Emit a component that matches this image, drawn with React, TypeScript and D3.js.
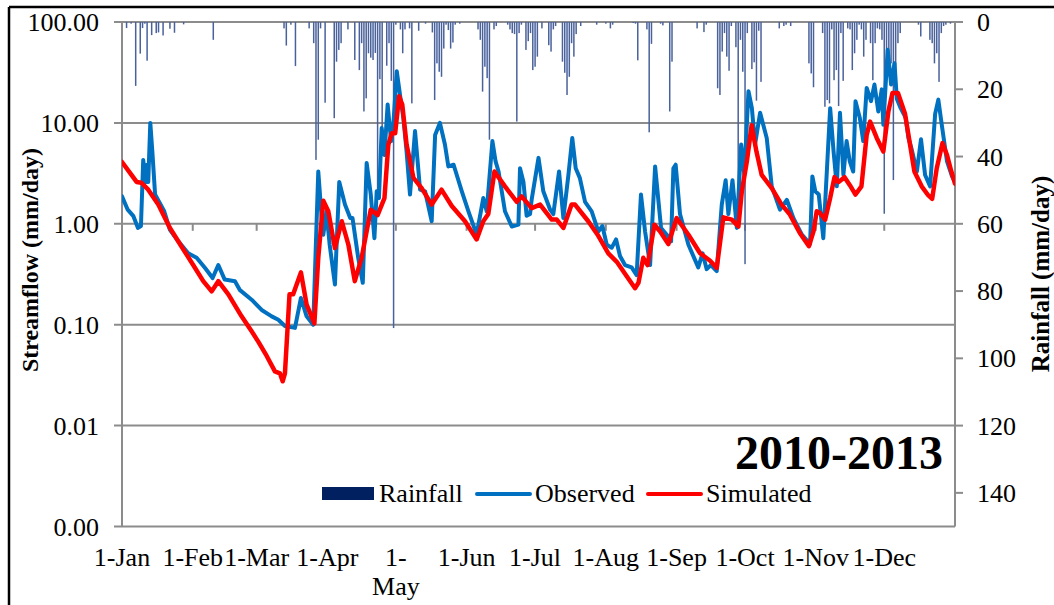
import React from "react";
import * as d3 from "d3";

const monthDays = [0, 31, 59, 90, 120, 151, 181, 212, 243, 273, 304, 334];
const monthLabels = ["1-Jan", "1-Feb", "1-Mar", "1-Apr", "1-May", "1-Jun", "1-Jul", "1-Aug", "1-Sep", "1-Oct", "1-Nov", "1-Dec"];
const flowTicks = [100, 10, 1, 0.1, 0.01, 0.001];
const rainTicks = [0, 20, 40, 60, 80, 100, 120, 140];

// [day of year, mm/day]
const rainfall: [number, number][] = [
  [2, 1.8], [4, 0.5], [6, 19], [8, 9.4], [9, 1.8], [10, 0.5], [11, 11.5], [13, 3.9], [15, 3.3], [16, 3.1], [18, 4], [21, 2], [23, 3.2], [27, 0.7], [40, 5.3],
  [71, 1.9], [72, 7], [74, 0.8], [76, 13.1], [82, 1.9], [84, 6.3], [85, 41], [86, 35], [87, 1.9], [89, 24], [93, 28.6], [94, 11.8], [95, 8.3], [96, 6.3], [99, 2.2],
  [102, 11.3], [104, 14.3], [105, 6.3], [106, 26.6], [107, 22.7], [108, 9.3], [109, 10.6], [110, 11.3], [111, 9.2], [112, 52], [113, 17], [114, 38], [116, 13], [117, 6.3], [118, 17.5], [119, 91], [120, 0.8],
  [122, 2.2], [123, 9.3], [124, 2.2], [126, 1.9], [127, 24.2], [130, 2.6], [133, 0.5], [136, 3.1], [137, 23.2], [138, 12.3], [139, 14.8], [140, 16.3], [141, 7.9], [142, 0.8], [143, 2.4], [144, 7.9], [145, 6.1], [146, 0.8], [148, 0.5],
  [156, 2.2], [157, 5.3], [158, 20.7], [159, 13.3], [160, 16.7], [161, 35], [163, 2.2], [164, 1.2], [169, 0.8], [170, 2.2], [171, 3.3], [172, 3.6], [173, 29.6], [174, 3.3], [175, 0.8], [177, 8.3], [178, 5.7], [179, 3.3], [180, 14.3], [181, 13.3], [182, 10.3],
  [184, 1.9], [187, 6.9], [188, 8.8], [189, 2.2], [190, 1.2], [193, 11.8], [194, 15.1], [195, 21.7], [196, 16.3], [197, 6.3], [198, 10.3], [199, 3.6], [201, 1.2], [208, 0.8], [212, 0.5], [214, 1.9], [215, 0.8],
  [224, 0.3], [225, 0.5], [226, 11.4], [230, 2.2], [231, 32.8], [232, 6.5], [236, 0.5], [237, 1], [240, 26.6], [241, 11.8], [252, 1.9], [255, 3], [256, 0.8],
  [261, 19.7], [262, 21.7], [263, 8.8], [264, 3.3], [265, 10.3], [266, 14.5], [267, 1.2], [269, 7.5], [270, 60], [271, 5.3], [272, 14.8], [273, 72], [274, 3.3], [276, 14], [277, 12], [278, 23.4], [279, 2.6], [280, 17.8],
  [288, 1.9], [290, 1.2], [291, 0.8], [293, 1.2], [301, 12.3], [302, 15.3], [303, 19.4], [307, 3.3], [308, 25.2], [309, 23.2], [310, 24.2], [311, 2.2], [312, 17.3], [313, 14.3], [314, 25], [315, 3.3], [316, 17.5], [318, 1.9],
  [319, 2.2], [320, 14.3], [321, 9.3], [322, 5.3], [323, 0.8], [324, 2.2], [325, 10.3], [326, 5.3], [328, 6.3], [329, 17.3], [330, 6.3], [331, 1.9], [332, 2.2], [333, 5.3], [334, 57], [335, 13.3], [336, 10.3], [337, 12.3], [338, 47], [339, 19.2], [340, 6.3], [341, 3.3],
  [349, 0.8], [350, 4.3], [354, 5.3], [355, 6.3], [356, 12.3], [357, 9.3], [358, 17.8], [359, 3.3], [360, 1.2], [361, 0.8], [363, 0.5],
];

// [day of year, streamflow mm/day]
const observed: [number, number][] = [
  [0, 1.87], [2.5, 1.38], [5, 1.19], [7, 0.91], [8.3, 0.95], [9.3, 4.3], [10.4, 2.6], [11, 3.85], [11.5, 2.6], [12.4, 10], [13.3, 5.2], [14.5, 1.95], [16.6, 1.6], [18.5, 1.33], [21, 0.87], [24.7, 0.67], [29, 0.51], [32.7, 0.46], [36.4, 0.365], [39.7, 0.29], [42.2, 0.39], [45, 0.28], [49.5, 0.27], [51.7, 0.22], [56.8, 0.177], [61.2, 0.14], [65.6, 0.121], [68.5, 0.112], [71.4, 0.097],
  [75.8, 0.093], [78.4, 0.184], [80.9, 0.121], [83.8, 0.1], [86, 3.3], [87.5, 1.14], [88.2, 0.78], [89.6, 1.33], [91, 0.62], [93.3, 0.25], [95.2, 2.6], [97.7, 1.55], [100, 1.14], [101, 1.14], [103.5, 0.46], [105.5, 0.26], [107.2, 4.0], [109, 1.95], [110.6, 0.72], [111.6, 2.1], [112.6, 1.8], [113.8, 8.9], [115, 4.8], [116.4, 15.2], [117.9, 6.6], [118.8, 8.9], [120.4, 32.5], [121.9, 18.4], [123.3, 11.2], [124.7, 5.2], [126.2, 1.95], [128.4, 8.3], [130.6, 2.18], [132.8, 2.1], [135.7, 1.06], [137.2, 7.6], [139.3, 10], [141.5, 6.1], [143, 3.7], [145.3, 3.85],
  [148.9, 2.1], [151.8, 1.33], [155.4, 0.78], [158.3, 1.8], [159.8, 1.33], [162.3, 6.6], [163.7, 4.15], [165, 3.3], [167.8, 1.33], [170.8, 0.94], [173.7, 0.98], [174.4, 3.55], [175.9, 2.6], [177.3, 1.2], [178.8, 1.25], [179.5, 1.73], [182.5, 4.5], [184.6, 2.1], [187.6, 1.38], [189, 1.25], [191.5, 3.3], [193.4, 1.14], [195.6, 3.05], [197.3, 7.1], [198.8, 3.55], [200.6, 2.85], [202.9, 1.65], [205.8, 1.33], [208.7, 0.84], [210.5, 0.95], [212.4, 0.62], [214.6, 0.58], [216.5, 0.7], [218.2, 0.48], [220.4, 0.39],
  [223.3, 0.37], [225.5, 0.31], [227.4, 1.95], [229.2, 0.84], [231.4, 0.39], [233.6, 3.7], [236.2, 0.91], [238.7, 0.78], [240.6, 0.67], [241.6, 3.55], [242.6, 3.85], [244.5, 1.25], [248.2, 0.62], [252.5, 0.37], [254.4, 0.51], [256.2, 0.355], [258, 0.39], [260.6, 0.34], [262.8, 1.55], [264.5, 2.7], [265.7, 1.25], [267.5, 2.7], [269.4, 0.91], [271.3, 6.1], [272.7, 3.05], [274.5, 20.6], [276, 14], [277.4, 6.1], [279.6, 12.6], [282.5, 7.1], [284.7, 2.35], [288.3, 1.38], [291.3, 1.73], [294.2, 1.14], [297.9, 0.78],
  [301.5, 0.63], [302.5, 2.95], [303.8, 2.1], [305.3, 1.95], [307.3, 0.72], [310.3, 14], [311.8, 5.2], [313.2, 2.35], [314.6, 12.6], [316.1, 3.05], [317.5, 6.6], [318.9, 4.15], [320.4, 3.3], [321.4, 16.4], [323.3, 11.2], [324.8, 6.6], [326.3, 22.2], [328.2, 16.4], [329.7, 24], [331.4, 13], [332.9, 21.5], [333.6, 9.6], [335.5, 53], [337, 24], [338.5, 39], [339.5, 17.4], [341.2, 14], [343.4, 11.2], [344.6, 7.1], [346, 5.5], [348.3, 3.3], [350.1, 6.9], [351.9, 3.05], [354.1, 2.35], [356.3, 12.3], [357.7, 17], [359.2, 9.6], [361.5, 4.15], [363.7, 2.95], [365, 2.6],
];

const simulated: [number, number][] = [
  [0, 4.1], [3.5, 3.2], [6.4, 2.6], [8.5, 2.55], [11.5, 2.18], [15.9, 1.55], [21, 0.91], [26, 0.6], [31.2, 0.39], [35.6, 0.27], [39.3, 0.214], [42.2, 0.27], [46.6, 0.2], [52.4, 0.121], [56.8, 0.086], [59.7, 0.068], [63.4, 0.049], [67, 0.0345], [69.2, 0.033], [70.4, 0.0275], [71.4, 0.033],
  [73.4, 0.2], [75, 0.2], [78.4, 0.33], [80.9, 0.158], [84.3, 0.103], [86, 0.46], [88.2, 1.69], [90.4, 1.33], [93.3, 0.575], [96.3, 1.06], [99.2, 0.62], [102, 0.27], [105, 0.46], [109, 1.38], [112, 1.22], [115, 1.8], [116.7, 6.1], [118.2, 7.9], [119.7, 7.9], [121.4, 18.4], [122.8, 15.2], [124.7, 6.1], [127.7, 2.85], [131.3, 2.26], [135.7, 1.55], [140, 2.18], [144.5, 1.5],
  [150.3, 1.06], [155.4, 0.7], [158.3, 1.06], [160.5, 1.25], [163.2, 3.3], [167.8, 2.35], [173, 1.65], [175.1, 1.87], [179.5, 1.43], [183.2, 1.55], [188.3, 1.1], [190.5, 1.1], [193.4, 0.91], [197, 1.55], [198.5, 1.55], [204.3, 1.06], [208.7, 0.76], [213.1, 0.51], [216.8, 0.42], [220.4, 0.32],
  [224.8, 0.23], [226.3, 0.26], [228.4, 0.46], [230.3, 0.39], [233.3, 0.98], [235.8, 0.84], [239.4, 0.63], [243, 1.14], [248.2, 0.78], [253.3, 0.51], [257.7, 0.43], [260.6, 0.365], [263.5, 1.16], [267.2, 1.1], [270.1, 0.94], [271.6, 2.1], [273.8, 4.15], [275.9, 9.5], [278, 5.2], [280.3, 3.05], [284.7, 2.26], [289, 1.55], [292.5, 1.25], [297, 0.81],
  [301, 0.6], [303, 0.84], [304.4, 1.33], [305.9, 1.28], [308.1, 1.1], [310.3, 1.8], [312.2, 2.9], [314, 2.6], [316.6, 2.9], [319, 2.4], [321.4, 1.95], [324, 2.35], [326.3, 7.6], [327.8, 10.3], [330.7, 7.1], [333.6, 5.2], [335.8, 13], [337.6, 19.8], [340, 19.8], [343.1, 12.3], [345.3, 6.1], [347.2, 3.3], [350.4, 2.35], [353, 1.95], [355, 1.77], [357, 3.55], [359.5, 6.3], [361.5, 4.8], [363.4, 3.3], [365, 2.5],
];

const W = 1054;
const H = 605;
const L = 122;
const R = 955;
const T = 22;
const B = 526.5;
const FONT = "'Liberation Serif', 'Times New Roman', serif";
const GRID = "#8c8c8c";

export default function App() {
  const x = d3.scaleLinear().domain([0, 365]).range([L, R]);
  const y = d3.scaleLog().domain([0.001, 100]).range([B, T]);
  const yr = d3.scaleLinear().domain([0, 150]).range([T, B]);
  const line = d3
    .line<[number, number]>()
    .x((d) => x(d[0]))
    .y((d) => y(d[1]));
  const axisY = y(1);

  return (
    <svg width={W} height={H} style={{ position: "absolute", left: 0, top: 0, background: "#fff" }} fontFamily={FONT}>
      <defs>
        <clipPath id="plot">
          <rect x={L} y={T} width={R - L} height={B - T} />
        </clipPath>
      </defs>
      {/* outer frame */}
      <line x1={9} y1={7} x2={W} y2={7} stroke="#000" strokeWidth={2.5} />
      <line x1={9} y1={7} x2={9} y2={H} stroke="#000" strokeWidth={2.5} />

      {/* gridlines and left ticks */}
      {flowTicks.map((t) => (
        <g key={"g" + t}>
          <line x1={L - 8} x2={R} y1={y(t)} y2={y(t)} stroke={GRID} strokeWidth={2} />
          <text x={99} y={y(t)} dy="0.35em" textAnchor="end" fontSize={26} fill="#000">
            {t.toFixed(2)}
          </text>
        </g>
      ))}
      {/* axes */}
      <line x1={L} x2={L} y1={T} y2={B} stroke={GRID} strokeWidth={2} />
      <line x1={R} x2={R} y1={T} y2={B} stroke={GRID} strokeWidth={2} />
      {rainTicks.map((t) => (
        <g key={"r" + t}>
          <line x1={R} x2={R + 8} y1={yr(t)} y2={yr(t)} stroke={GRID} strokeWidth={2} />
          <text x={977} y={yr(t)} dy="0.35em" textAnchor="start" fontSize={26} fill="#000">
            {t}
          </text>
        </g>
      ))}
      {/* x-axis ticks (axis crosses at 1.0) */}
      {monthDays.map((d) => (
        <line key={"t" + d} x1={x(d)} x2={x(d)} y1={axisY} y2={axisY + 7} stroke={GRID} strokeWidth={2} />
      ))}

      {/* rainfall bars */}
      <g clipPath="url(#plot)">
        {rainfall.map(([d, v]) => (
          <rect key={"b" + d} x={x(d) - 0.75} y={yr(0)} width={1.5} height={yr(v) - yr(0)} fill="#4a629c" />
        ))}
      </g>

      {/* series */}
      <g clipPath="url(#plot)">
        <path d={line(observed) || ""} fill="none" stroke="#0070C0" strokeWidth={4} strokeLinejoin="round" strokeLinecap="round" />
        <path d={line(simulated) || ""} fill="none" stroke="#FF0000" strokeWidth={4.5} strokeLinejoin="round" strokeLinecap="round" />
      </g>

      {/* x labels */}
      {monthDays.map((d, i) =>
        monthLabels[i] === "1-May" ? (
          <text key={"l" + d} x={x(d)} y={566} textAnchor="middle" fontSize={26} fill="#000">
            <tspan x={x(d)}>1-</tspan>
            <tspan x={x(d)} dy={29}>
              May
            </tspan>
          </text>
        ) : (
          <text key={"l" + d} x={x(d)} y={566} textAnchor="middle" fontSize={26} fill="#000">
            {monthLabels[i]}
          </text>
        )
      )}

      {/* axis titles */}
      <text transform="translate(38,260) rotate(-90)" textAnchor="middle" fontSize={24} fontWeight="bold" fill="#000">
        Streamflow (mm/day)
      </text>
      <text transform="translate(1049,274) rotate(-90)" textAnchor="middle" fontSize={25} fontWeight="bold" fill="#000">
        Rainfall (mm/day)
      </text>

      {/* title */}
      <text x={943} y={469} textAnchor="end" fontSize={48} fontWeight="bold" fill="#000">
        2010-2013
      </text>

      {/* legend */}
      <rect x={322} y={487} width={52} height={13} fill="#002060" />
      <text x={379} y={502} fontSize={26} fill="#000">
        Rainfall
      </text>
      <line x1={477} x2={530} y1={494} y2={494} stroke="#0070C0" strokeWidth={4} strokeLinecap="round" />
      <text x={535} y={502} fontSize={26} fill="#000">
        Observed
      </text>
      <line x1={648} x2={701} y1={494} y2={494} stroke="#FF0000" strokeWidth={4} strokeLinecap="round" />
      <text x={706} y={502} fontSize={26} fill="#000">
        Simulated
      </text>
    </svg>
  );
}
